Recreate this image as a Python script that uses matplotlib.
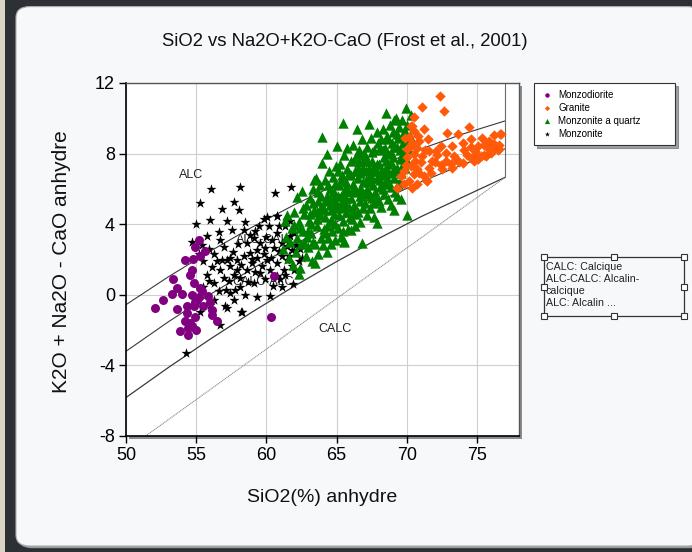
import matplotlib
matplotlib.use('Agg')
import matplotlib.pyplot as plt
from matplotlib.patches import Rectangle, FancyBboxPatch

plt.rcParams['font.family'] = ['Liberation Sans', 'DejaVu Sans']
plt.rcParams['axes.unicode_minus'] = False

# Monzodiorite (violet)
mzd_x = [55.17, 54.93, 55.64, 54.21, 54.69, 54.57, 53.38, 54.81, 55.29, 53.26,
         53.98, 54.69, 52.67, 55.05, 52.07, 53.62, 54.33, 54.81, 55.52, 56.00,
         55.17, 54.33, 54.93, 56.12, 56.12, 54.57, 56.48, 53.86, 54.45, 54.69,
         54.45, 60.52, 60.33, 55.45, 54.90, 55.85, 54.20, 55.00, 53.60, 54.75,
         55.30]
mzd_y = [3.09, 2.71, 2.46, 1.95, 1.42, 1.14, 0.89, 0.66, 0.38, 0.06,
         0.06, 0.00, -0.32, -0.28, -0.76, -0.81, -0.66, -0.66, -0.63, -0.38,
         -0.10, -1.04, -1.23, -0.85, -1.14, -1.61, -1.46, -2.03, -1.89, -1.76,
         -2.27, 1.08, -1.27, 0.20, -0.40, -0.05, -1.50, -2.00, 0.40, 2.05,
         2.20]

# Monzonite (noir)
mzn_x = [56.05, 58.10, 55.29, 56.83, 57.67, 58.02, 60.64, 61.79, 56.00, 58.50,
         60.05, 60.76, 54.69, 55.76, 56.60, 57.55, 58.38, 59.21, 60.17, 56.71,
         56.83, 56.48, 57.19, 57.43, 57.90, 57.67, 56.95, 57.31, 58.14, 58.62,
         58.98, 59.33, 59.69, 60.05, 60.29, 60.76, 61.12, 61.48, 61.83, 61.24,
         60.76, 58.62, 59.10, 59.57, 59.93, 60.40, 60.76, 61.12, 61.48, 61.71,
         60.52, 59.33, 58.86, 58.38, 57.90, 59.57, 59.10, 58.14, 57.43, 58.50,
         59.33, 60.24, 61.12, 55.76, 55.88, 55.52, 56.24, 56.60, 57.07, 58.26,
         56.71, 54.29, 56.24, 62.55, 61.95, 61.83, 61.36, 60.76, 57.19, 58.19,
         55.40, 55.90, 56.30, 57.00, 57.60, 58.00, 58.80, 59.50, 60.00, 60.90,
         61.60, 62.10, 62.30, 61.00, 60.50, 59.90, 59.20, 58.70, 57.80, 57.10,
         56.70, 56.10, 55.50, 55.20, 59.80, 60.30, 59.00, 58.20, 57.40, 60.90,
         61.30, 61.90, 56.00, 55.30, 57.70, 62.00, 62.40, 61.70, 59.80, 57.20,
         55.00]
mzn_y = [5.97, 6.12, 5.21, 4.87, 5.25, 4.83, 5.78, 6.12, 4.22, 4.11,
         4.41, 4.49, 2.97, 3.35, 3.54, 3.66, 3.69, 3.60, 3.88, 3.12,
         1.99, 1.89, 1.99, 1.61, 1.42, 1.14, 0.95, 0.76, 0.95, 1.42,
         1.80, 2.08, 1.61, 1.99, 1.42, 1.80, 2.18, 1.99, 1.61, 1.42,
         1.04, 2.93, 3.22, 2.93, 2.65, 3.12, 3.50, 2.93, 2.74, 3.31,
         2.65, 2.56, 2.37, 2.18, 1.99, 1.23, 0.66, 0.47, 0.10, 0.00,
         -0.10, -0.06, 0.47, 1.14, 0.76, 0.47, 0.66, 0.19, -0.66, -0.95,
         -1.70, -3.28, -0.28, 2.10, 1.42, 2.56, 3.88, 4.45, -0.76, -0.95,
         2.80, 2.60, 2.30, 2.70, 2.40, 2.90, 3.40, 3.90, 3.30, 3.90,
         2.20, 2.80, 1.90, 0.90, 0.50, 0.90, 1.30, 0.70, 0.30, 0.30,
         1.40, 1.60, 1.90, 2.30, 2.30, 2.10, 2.00, 1.70, 2.10, 2.50,
         1.10, 0.60, -0.60, -1.00, -0.30, 3.50, 2.60, 4.20, 4.30, 4.20,
         4.00]

# Monzonite a quartz (vert)
mzq_x = [61.2, 61.4, 61.36, 61.6, 61.7, 61.8, 61.95, 61.9, 61.5,
         62.1, 62.19, 62.2, 62.3, 62.4, 62.5, 62.55, 62.6, 62.7, 62.8, 62.85, 62.9, 62.3, 62.6, 62.0,
         63.0, 63.05, 63.1, 63.2, 63.25, 63.3, 63.38, 63.4, 63.5, 63.5, 63.6, 63.65, 63.7, 63.8,
         63.85, 63.9, 63.98, 63.98, 63.3, 63.7, 63.1, 63.55,
         64.0, 64.05, 64.1, 64.15, 64.2, 64.29, 64.3, 64.35, 64.4, 64.45, 64.5, 64.55, 64.6, 64.65,
         64.7, 64.75, 64.8, 64.85, 64.9, 64.95, 64.2, 64.6, 64.4, 64.9,
         65.0, 65.05, 65.1, 65.15, 65.2, 65.25, 65.3, 65.35, 65.4, 65.45, 65.48, 65.5, 65.55, 65.6,
         65.65, 65.7, 65.75, 65.8, 65.85, 65.9, 65.95, 65.3, 65.6, 65.1, 65.75, 65.45, 65.52,
         66.0, 66.0, 66.05, 66.1, 66.15, 66.2, 66.25, 66.3, 66.35, 66.4, 66.45, 66.48, 66.5, 66.55,
         66.6, 66.65, 66.7, 66.75, 66.8, 66.83, 66.85, 66.9, 66.95, 66.3, 66.7, 66.2, 66.6, 66.9,
         67.0, 67.05, 67.1, 67.15, 67.2, 67.25, 67.3, 67.31, 67.35, 67.4, 67.45, 67.5, 67.55, 67.6,
         67.65, 67.7, 67.75, 67.8, 67.86, 67.9, 67.95, 67.2, 67.5, 67.7, 67.4, 67.85,
         68.0, 68.05, 68.1, 68.15, 68.2, 68.25, 68.3, 68.35, 68.4, 68.45, 68.5, 68.5, 68.55, 68.6,
         68.65, 68.7, 68.75, 68.8, 68.85, 68.9, 68.95, 68.3, 68.6, 68.9, 68.2, 68.7,
         69.0, 69.05, 69.1, 69.1, 69.15, 69.2, 69.25, 69.3, 69.35, 69.4, 69.45, 69.5, 69.55, 69.6,
         69.65, 69.7, 69.75, 69.8, 69.85, 69.93, 69.9, 70.0, 70.05, 70.1, 70.2, 70.3, 69.3, 69.6,
         70.0, 69.1,
         63.2, 63.6, 63.9, 64.1, 64.3, 64.5, 64.7, 64.9, 65.1, 65.3, 65.5, 65.7, 65.9, 66.1,
         66.3, 66.5, 66.7, 66.9, 67.1, 67.3, 67.5, 67.7, 67.9, 68.1, 68.3, 68.5, 68.7, 68.9,
         69.1, 69.3, 69.5, 69.7, 69.9,
         62.4, 62.7, 63.0, 63.3, 63.6, 63.9, 64.2, 64.5, 64.8, 65.1, 65.4, 65.7, 66.0, 66.3,
         66.6, 66.9, 67.2, 67.5, 67.8, 68.1, 68.4, 68.7, 69.0, 69.3, 69.6, 69.9, 70.2]
mzq_y = [2.6, 3.3, 4.17, 2.1, 3.0, 3.8, 3.98, 1.7, 4.5,
         2.4, 5.53, 3.2, 4.1, 1.5, 2.9, 5.87, 3.6, 4.6, 2.2, 5.1, 3.3, 1.2, 4.9, 4.7,
         2.7, 4.2, 5.5, 3.5, 1.9, 6.0, 6.48, 4.8, 1.8, 2.9, 3.9, 5.3, 2.3, 4.5,
         6.2, 3.2, 7.48, 8.94, 3.0, 5.8, 4.6, 6.6,
         2.8, 5.0, 3.7, 6.5, 4.4, 7.99, 2.4, 5.6, 3.2, 7.0, 4.1, 6.0, 2.9, 5.2,
         3.6, 6.7, 4.6, 5.8, 3.1, 7.3, 5.3, 4.8, 6.2, 4.0,
         5.1, 8.43, 3.8, 6.2, 4.5, 7.4, 3.3, 5.6, 6.8, 4.2, 9.75, 3.0, 7.9, 5.0,
         6.4, 4.7, 7.1, 3.7, 5.9, 6.9, 4.4, 5.0, 5.9, 7.0, 8.3, 3.6, 3.03,
         3.69, 5.5, 7.6, 4.3, 6.3, 8.5, 5.1, 7.0, 3.9, 5.8, 8.0, 9.38, 4.7, 6.6,
         7.5, 5.3, 4.1, 6.0, 8.8, 2.93, 7.2, 4.9, 5.7, 6.0, 6.9, 4.8, 8.2, 6.4,
         7.9, 5.2, 6.5, 4.5, 8.4, 5.9, 7.2, 9.70, 4.9, 6.8, 8.9, 5.5, 7.6, 6.2,
         4.4, 8.2, 5.8, 7.0, 4.07, 6.6, 8.6, 6.0, 6.6, 7.3, 5.6, 9.2,
         5.3, 7.4, 6.1, 8.8, 5.0, 6.8, 9.4, 7.8, 5.7, 8.3, 6.4, 10.32, 7.2, 9.0,
         5.4, 8.0, 6.9, 9.6, 7.5, 6.1, 8.6, 6.0, 6.6, 5.1, 7.0, 7.4,
         7.8, 9.2, 4.83, 6.6, 8.4, 5.8, 10.0, 7.2, 8.9, 6.3, 9.5, 7.7, 8.2, 6.9,
         9.9, 8.6, 7.4, 9.2, 8.0, 10.61, 8.8, 9.6, 4.51, 8.3, 9.0, 10.2, 5.6, 5.4,
         7.6, 9.9,
         4.0, 4.3, 5.0, 4.8, 3.9, 5.5, 4.2, 6.3, 5.6, 6.5, 5.3, 5.5, 5.0, 5.9,
         4.6, 7.2, 5.6, 7.6, 7.0, 6.4, 7.0, 5.2, 7.4, 6.5, 8.2, 7.6, 6.3, 8.1,
         7.1, 8.4, 6.4, 8.0, 7.2,
         3.8, 3.0, 3.6, 5.2, 4.7, 5.6, 3.5, 5.1, 5.4, 4.9, 5.3, 6.1, 6.8, 7.7,
         5.9, 8.0, 7.6, 8.1, 5.5, 8.3, 6.9, 8.8, 7.0, 9.1, 7.8, 9.3, 8.6]

# Granite (orange)
gra_x = [72.38, 71.12, 72.67, 70.52, 70.40, 71.24, 74.45, 72.86, 73.62, 75.36,
         76.24, 76.67, 70.17, 73.98, 74.57, 75.88, 76.24, 72.43, 73.26, 74.57,
         75.05, 75.52, 70.71, 71.60, 72.07, 72.79, 74.10, 74.84, 75.76, 76.00,
         76.52, 70.52, 71.12, 72.19, 73.38, 74.33, 74.93, 75.29, 74.57, 71.00,
         71.83, 72.79, 73.50, 73.98, 75.05, 75.64, 72.43, 73.14, 69.93, 70.76,
         71.60, 70.52, 71.24, 70.17, 69.81, 70.76, 71.48, 70.40, 69.57, 70.05,
         70.29, 70.88, 70.52, 70.29, 71.36, 69.33, 76.71, 76.60, 70.30, 70.60,
         70.90, 71.30, 71.70, 72.00, 72.50, 73.20, 73.70, 74.80, 75.50, 76.10,
         76.60, 69.80, 70.00, 70.40, 70.80, 71.50, 69.90]
gra_y = [11.27, 10.64, 10.41, 10.07, 9.56, 9.41, 9.51, 9.18, 9.09, 8.86,
         9.05, 9.09, 8.94, 8.62, 8.80, 8.71, 8.56, 8.43, 8.43, 8.37,
         8.43, 8.48, 8.33, 8.14, 8.14, 8.05, 8.18, 8.14, 8.29, 8.05,
         8.18, 7.95, 7.86, 7.92, 7.86, 7.92, 7.95, 7.86, 7.76, 7.54,
         7.57, 7.57, 7.67, 7.48, 7.67, 7.86, 7.38, 7.42, 7.38, 7.10,
         7.20, 6.82, 6.72, 6.44, 6.25, 6.25, 6.44, 6.06, 6.72, 8.24,
         8.43, 8.71, 9.28, 9.56, 6.53, 6.06, 9.09, 8.24, 7.30, 7.60,
         6.90, 8.20, 6.90, 7.50, 7.10, 7.20, 7.50, 7.60, 7.90, 8.20,
         8.50, 7.00, 7.80, 8.60, 9.00, 8.80, 8.90]

# limites de Frost et al. (2001)
lim_x = [50, 53, 56, 59, 62, 65, 68, 71, 74, 77]
alc_y = [-0.56, 1.01, 2.47, 3.84, 5.10, 6.25, 7.31, 8.26, 9.11, 9.85]
alcc_y = [-3.20, -1.54, 0.02, 1.48, 2.85, 4.12, 5.30, 6.39, 7.38, 8.27]
calc_y = [-5.82, -4.13, -2.51, -0.97, 0.49, 1.88, 3.19, 4.42, 5.54, 6.65]
diag_x = [51.4, 77]
diag_y = [-8, 6.65]
vert_x = [77, 77]
vert_y = [6.65, 12]

xticks = [50, 55, 60, 65, 70, 75]
yticks = [-8, -4, 0, 4, 8, 12]


def px(x, y):
    # pixels de l'image -> coordonnees figure
    return x / 692.0, 1 - y / 552.0


def main():
    fig = plt.figure(figsize=(6.92, 5.52), dpi=100)
    fig.patch.set_facecolor('#d8d5c6')

    # fond facon fenetre
    fig.patches.append(Rectangle(px(5, 552), 687 / 692.0, 1, transform=fig.transFigure,
                                 facecolor='#2d3135', edgecolor='none', zorder=-5))
    x0, y0 = px(16, 546)
    fig.patches.append(FancyBboxPatch((x0 + 0.003, y0 - 0.004), 0.99, 0.985 - y0,
                                      boxstyle='round,pad=0,rounding_size=0.02',
                                      transform=fig.transFigure, facecolor='#9a9a9a',
                                      edgecolor='none', zorder=-4))
    fig.patches.append(FancyBboxPatch((x0, y0), 0.99, 0.988 - y0,
                                      boxstyle='round,pad=0,rounding_size=0.02',
                                      transform=fig.transFigure, facecolor='#f7f8fa',
                                      edgecolor='#b0b0b0', linewidth=0.8, zorder=-3))

    l, t = px(126, 83)
    r, b = px(519, 436)
    # ombre du cadre
    fig.patches.append(Rectangle((l + 3 / 692.0, b - 3 / 552.0), r - l, t - b,
                                 transform=fig.transFigure, facecolor='#8c8c8c',
                                 edgecolor='none', zorder=-1))
    ax = fig.add_axes([l, b, r - l, t - b])
    ax.set_facecolor('white')

    ax.plot(lim_x, alc_y, color='#3a3a3a', lw=0.8, zorder=2)
    ax.plot(lim_x, alcc_y, color='#3a3a3a', lw=0.8, zorder=2)
    ax.plot(lim_x, calc_y, color='#3a3a3a', lw=0.9, zorder=2)
    ax.plot(diag_x, diag_y, color='#8a8a8a', lw=0.8, ls=(0, (1, 0.6)), zorder=2)
    ax.plot(vert_x, vert_y, color='#6a6a6a', lw=0.8, zorder=2)

    ax.text(54.65, 6.8, 'ALC', fontsize=9, ha='center', va='center', color='#222222', zorder=1)
    ax.text(57.8, 3.1, 'ALC-CALC', fontsize=9, ha='left', va='center', color='#222222', zorder=1)
    ax.text(57.6, 0.7, 'CALC-ALC', fontsize=9, ha='left', va='center', color='#222222', zorder=1)
    ax.text(64.86, -1.93, 'CALC', fontsize=9, ha='center', va='center', color='#222222', zorder=1)

    h_mzn = ax.scatter(mzn_x, mzn_y, marker='*', s=58, color='black', linewidths=0, zorder=3)
    h_mzd = ax.scatter(mzd_x, mzd_y, marker='o', s=42, color='#800080', linewidths=0, zorder=4)
    h_mzq = ax.scatter(mzq_x, mzq_y, marker='^', s=56, color='#008000', linewidths=0, zorder=5)
    h_gra = ax.scatter(gra_x, gra_y, marker='D', s=28, color='#ff5a0a', linewidths=0, zorder=6)

    ax.set_xlim(50, 78)
    ax.set_ylim(-8, 12)
    ax.set_xticks(xticks)
    ax.set_yticks(yticks)
    ax.grid(True, color='#cfcfcf', lw=0.8)
    ax.set_axisbelow(True)
    ax.tick_params(labelsize=13, length=5, width=1, direction='out', pad=3)
    for s in ['left', 'bottom']:
        ax.spines[s].set_color('black')
        ax.spines[s].set_linewidth(1.2)
    for s in ['top', 'right']:
        ax.spines[s].set_color('#555555')
        ax.spines[s].set_linewidth(1.0)

    tx, ty = px(345, 42)
    fig.text(tx, ty, 'SiO2 vs Na2O+K2O-CaO (Frost et al., 2001)', fontsize=13.3,
             ha='center', va='center', color='#111111')
    tx, ty = px(322, 497)
    fig.text(tx, ty, 'SiO2(%) anhydre', fontsize=14, ha='center', va='center', color='#111111')
    tx, ty = px(62, 262)
    fig.text(tx, ty, 'K2O + Na2O - CaO anhydre', fontsize=15, ha='center', va='center',
             rotation=90, color='#111111')

    lx = 534 / 692.0
    leg = fig.legend([h_mzd, h_gra, h_mzq, h_mzn],
                     ['Monzodiorite', 'Granite', 'Monzonite a quartz', 'Monzonite'],
                     loc='upper left', bbox_to_anchor=(lx, px(0, 143)[1], 141 / 692.0, 60 / 552.0),
                     mode='expand', borderaxespad=0, fontsize=7, markerscale=0.5,
                     handlelength=1.2, handletextpad=0.6, labelspacing=0.3,
                     borderpad=0.7, fancybox=False, shadow=True, framealpha=1,
                     edgecolor='#333333')
    leg.get_frame().set_linewidth(0.8)

    # zone de texte avec poignees
    bx0, by0 = px(544, 316)
    bx1, by1 = px(684, 257)
    fig.patches.append(Rectangle((bx0, by0), bx1 - bx0, by1 - by0, transform=fig.transFigure,
                                 facecolor='none', edgecolor='#333333', lw=0.9, zorder=5))
    fig.text(bx0 + 2 / 692.0, by1 - 5 / 552.0,
             'CALC: Calcique\nALC-CALC: Alcalin-\ncalcique\nALC: Alcalin ...',
             fontsize=7.7, ha='left', va='top', linespacing=1.25, color='#222222')
    hs = 6
    for hx in [544, 614, 684]:
        for hy in [257, 286.5, 316]:
            if hx == 614 and hy == 286.5:
                continue
            cx, cy = px(hx - hs / 2, hy + hs / 2)
            fig.patches.append(Rectangle((cx, cy), hs / 692.0, hs / 552.0,
                                         transform=fig.transFigure, facecolor='white',
                                         edgecolor='#333333', lw=0.8, zorder=6))

    plt.savefig('out.png', dpi=100, facecolor=fig.get_facecolor())


if __name__ == '__main__':
    main()
